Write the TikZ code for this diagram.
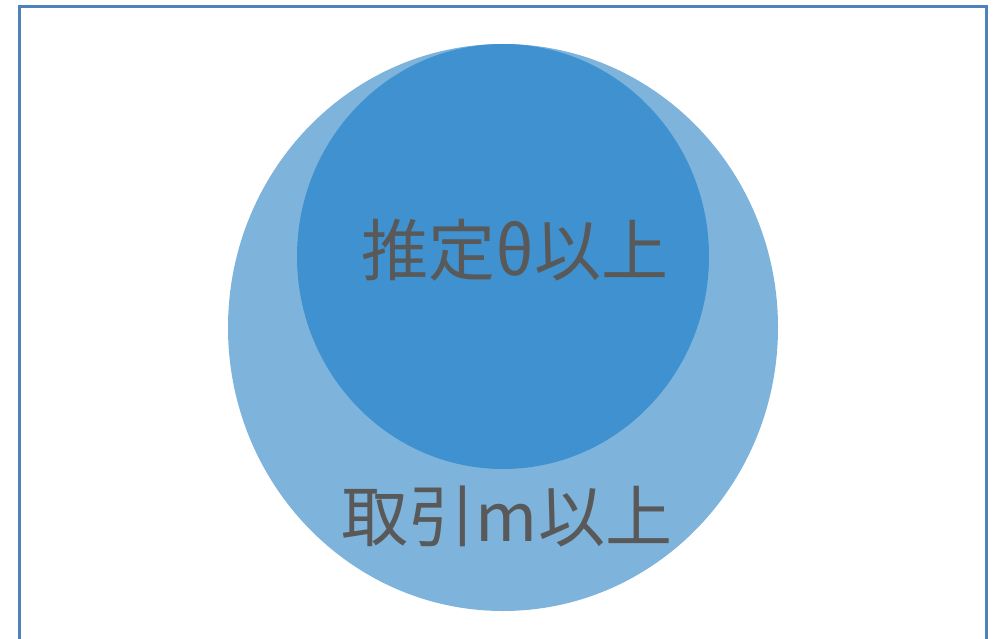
\documentclass[tikz,border=0pt]{standalone}
\usepackage{fontspec}
\newfontfamily\jpfont{Noto Sans CJK JP}
\usetikzlibrary{shapes.geometric}
\definecolor{outerblue}{HTML}{7EB4DC}
\definecolor{innerblue}{HTML}{3F92CF}
\definecolor{framecol}{HTML}{4F81BD}
\definecolor{txtgray}{HTML}{595959}
\tikzset{
  blob/.style={ellipse, draw=none, inner sep=0pt},
  lbl/.style={text=txtgray, font=\jpfont\fontsize{67}{72}\selectfont, inner sep=0pt}
}
\begin{document}
\begin{tikzpicture}[x=1pt,y=-1pt]
\useasboundingbox (0,0) rectangle (993,639);
\clip (0,0) rectangle (993,639);
\node[blob, fill=outerblue, minimum width=550pt, minimum height=567pt] (outer) at (503,327.5) {};
\node[blob, fill=innerblue, minimum width=412pt, minimum height=425pt] (inner) at (503,256.5) {};
\node[lbl] (t1) at (515,250) {推定θ以上};
\node[lbl] (t2) at (507,516) {取引m以上};
\draw[framecol, line width=3.2pt] (19.5,660) -- (19.5,6.5) -- (986.5,6.5) -- (986.5,660);
\end{tikzpicture}
\end{document}
